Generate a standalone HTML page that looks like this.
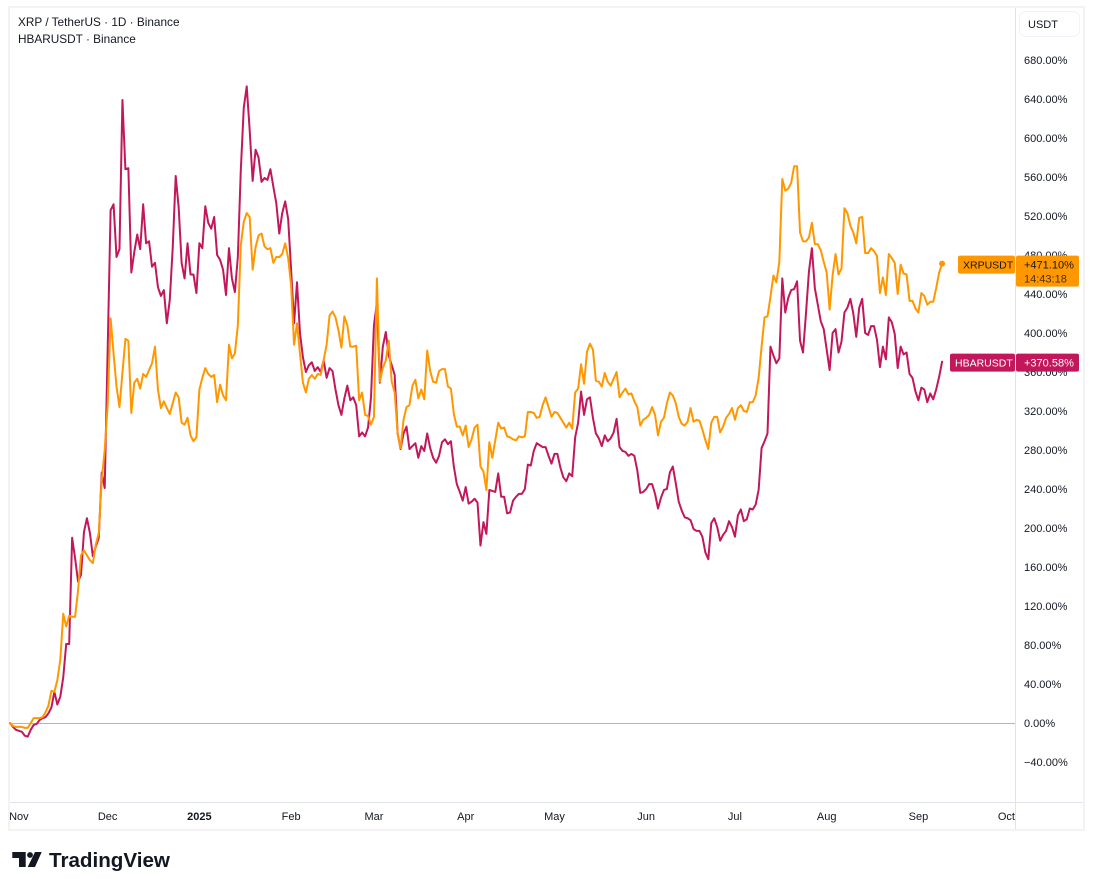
<!DOCTYPE html>
<html lang="en">
<head>
<meta charset="utf-8">
<title>XRP vs HBAR percent chart</title>
<style>
html,body{margin:0;padding:0;background:#fff;width:1093px;height:890px;overflow:hidden}
svg{display:block;font-family:"Liberation Sans",sans-serif}
</style>
</head>
<body>
<svg id="chart" width="1093" height="890" viewBox="0 0 1093 890">
  <rect x="9" y="7" width="1075" height="823" fill="#fff" stroke="#f3f3f3" stroke-width="2"/>
  <line x1="1015.5" y1="8" x2="1015.5" y2="829" stroke="#e0e3eb"/>
  <line x1="10" y1="802.5" x2="1083" y2="802.5" stroke="#e0e3eb"/>
  <g id="yTicks"></g>
  <g id="xTicks"></g>
  <line id="zeroLine" x1="10" x2="1015" stroke="#b2b5be"/>
  <g id="plot"></g>
  <g id="labels"></g>
  <text x="18" y="26" font-size="11.8" fill="#131722">XRP / TetherUS · 1D · Binance</text>
  <text x="18" y="43" font-size="11.8" fill="#131722">HBARUSDT · Binance</text>
  <g>
    <rect x="1019.5" y="11.5" width="60" height="25" rx="6" fill="#fff" stroke="#f0f3fa"/>
    <text x="1028" y="28" font-size="11" fill="#131722">USDT</text>
  </g>
  <g>
    <path d="M12.3 852H25.7V867H19V858H12.3Z M35 852H41.7L35 867H27.7Z" fill="#131722"/>
    <circle cx="30" cy="855" r="2.9" fill="#131722"/>
    <text x="49" y="867" font-size="20.6" font-weight="700" fill="#131722">TradingView</text>
  </g>
</svg>
<script>
const xrpValues = [0,-3,-4,-4,-4,-5,-5,0,5,5,5,6,11,18,33,32,44,65,112,99,110,109,109,136,172,177,172,167,164,183,195,249,280,326,415,379,345,324,359,394,392,318,349,353,343,358,355,362,369,386,342,323,330,323,317,328,339,334,308,306,313,295,289,293,342,354,364,358,355,357,329,347,336,331,388,374,379,408,490,514,523,519,465,488,500,502,489,486,487,472,478,478,481,492,477,449,388,410,379,349,339,353,357,353,358,357,372,388,418,422,416,403,385,417,408,386,386,387,331,339,316,315,306,314,456,350,364,372,392,350,339,297,282,311,324,326,346,352,333,342,332,382,361,350,349,361,363,363,345,343,317,304,304,295,305,283,291,303,306,263,258,239,288,272,290,308,302,303,294,293,291,290,294,293,294,319,319,318,313,314,326,334,324,314,319,318,313,308,303,308,302,339,343,368,348,381,389,383,351,350,345,359,350,346,353,360,334,339,343,337,338,330,324,305,311,313,316,324,316,295,309,313,328,339,336,328,314,307,305,309,323,309,311,310,301,290,281,308,314,314,298,304,313,317,323,311,323,326,320,319,329,329,336,354,386,416,417,437,459,452,473,558,546,548,554,571,571,503,494,494,498,513,491,491,485,473,462,424,459,481,460,466,528,523,510,503,492,518,519,482,482,487,484,479,441,457,439,481,477,472,440,470,461,460,433,433,425,421,441,438,429,432,432,446,462,471.1];
const hbarValues = [0,-4,-7,-8,-9,-13,-14,-7,-2,-1,3,5,6,10,16,32,19,27,47,81,81,190,169,145,152,196,210,195,171,181,190,257,241,382,526,532,478,486,639,568,569,462,483,501,486,532,492,494,468,472,447,438,444,410,434,488,561,529,472,456,492,460,460,441,492,487,530,513,507,519,480,475,465,439,487,456,442,478,567,631,653,608,556,588,580,555,559,557,568,550,533,502,523,535,517,465,410,452,400,375,360,367,370,361,365,360,372,354,364,361,342,326,316,333,346,331,334,326,294,298,294,303,334,408,431,349,386,401,377,367,357,297,281,297,304,281,284,287,272,284,279,297,282,272,267,274,288,291,286,289,263,245,237,228,242,225,227,230,226,182,206,194,239,238,237,256,232,232,215,216,228,232,235,235,240,265,264,279,287,285,283,283,274,266,276,276,262,252,248,256,253,293,308,340,316,332,334,313,297,292,284,295,289,292,298,312,283,279,278,274,276,274,259,236,237,240,245,245,235,220,231,239,240,257,263,246,227,218,211,210,208,199,197,197,191,175,168,205,210,201,187,193,197,207,201,191,213,219,207,209,220,219,224,239,282,289,297,386,377,369,374,456,421,436,444,445,453,392,380,420,463,487,446,429,412,404,383,362,400,404,380,391,421,426,435,420,396,426,435,400,398,407,407,393,365,386,373,416,411,399,364,386,378,380,358,354,340,331,344,342,329,338,332,342,355,370.58];
const priceTicks = [680,640,600,560,520,480,440,400,360,320,280,240,200,160,120,80,40,0,-40];
const timeTickDays = [3,33,64,95,123,154,184,215,245,276,307,337];
const timeTickLabels = ["Nov","Dec","2025","Feb","Mar","Apr","May","Jun","Jul","Aug","Sep","Oct"];
const xrpCountdown = "14:43:18";

const NS = "http://www.w3.org/2000/svg";
function xScale(day){ return 10 + day * 2.959; }
function yScale(pct){ return 723 - pct * 0.975; }
function fmtPct(v){ return (v < 0 ? "\u2212" : "") + Math.abs(v).toFixed(2) + "%"; }
function fmtSigned(v){ return (v >= 0 ? "+" : "\u2212") + Math.abs(v).toFixed(2) + "%"; }
function make(tag, parent, attrs, txt){
  const el = document.createElementNS(NS, tag);
  for (const k in attrs) el.setAttribute(k, attrs[k]);
  if (txt !== undefined) el.textContent = txt;
  parent.appendChild(el);
  return el;
}

const yG = document.getElementById("yTicks");
priceTicks.forEach(function(v){
  const t = make("text", yG, {x:1024, y:yScale(v)+4, "font-size":11, fill:"#131722"}, fmtPct(v));
  
  
});

const xG = document.getElementById("xTicks");
timeTickLabels.forEach(function(label, i){
  const cx = xScale(timeTickDays[i]);
  const isLast = cx + 9 > 1015;
  const t = make("text", xG, {
    x: isLast ? 1015 : cx,
    y: 820,
    "font-size": 11,
    fill: "#131722",
    "text-anchor": isLast ? "end" : "middle",
    "font-weight": label === "2025" ? 700 : 400
  }, label);
  
  
});

const zero = document.getElementById("zeroLine");
zero.setAttribute("y1", Math.round(yScale(0)) + 0.5);
zero.setAttribute("y2", Math.round(yScale(0)) + 0.5);

function linePath(values){
  return values.map(function(v, i){
    return (i ? "L" : "M") + xScale(i).toFixed(2) + " " + yScale(v).toFixed(2);
  }).join("");
}
const plot = document.getElementById("plot");

const hbarLine = make("path", plot, {d:linePath(hbarValues), fill:"none", stroke:"#c2185b", "stroke-width":2, "stroke-linejoin":"round", "stroke-linecap":"round"});



const xrpLine = make("path", plot, {d:linePath(xrpValues), fill:"none", stroke:"#ff9800", "stroke-width":2, "stroke-linejoin":"round", "stroke-linecap":"round"});



const xrpLast = xrpValues[xrpValues.length - 1];
const hbarLast = hbarValues[hbarValues.length - 1];
const lastDot = make("circle", plot, {cx:xScale(xrpValues.length - 1), cy:yScale(xrpLast), r:3, fill:"#ff9800"});



const labels = document.getElementById("labels");
const xy = yScale(xrpLast);
const hy = yScale(hbarLast);

const xName = make("rect", labels, {x:958, y:xy-8, width:57, height:18, rx:2, fill:"#ff9800"});


const xNameT = make("text", labels, {x:963, y:xy+5, "font-size":10.5, fill:"#131722"}, "XRPUSDT");


const xBox = make("rect", labels, {x:1016, y:xy-8, width:63, height:31, rx:2, fill:"#ff9800"});


const xVal = make("text", labels, {x:1024, y:xy+5, "font-size":11, fill:"#131722"}, fmtSigned(xrpLast));


const xCd = make("text", labels, {x:1024, y:xy+19, "font-size":11, fill:"#4a3008"}, xrpCountdown);



const hName = make("rect", labels, {x:950, y:hy-8, width:65, height:18, rx:2, fill:"#c2185b"});


const hNameT = make("text", labels, {x:955, y:hy+5, "font-size":10.5, fill:"#fff"}, "HBARUSDT");


const hBox = make("rect", labels, {x:1016, y:hy-8, width:63, height:18, rx:2, fill:"#c2185b"});


const hVal = make("text", labels, {x:1024, y:hy+5, "font-size":11, fill:"#fff"}, fmtSigned(hbarLast));


</script>
</body>
</html>
